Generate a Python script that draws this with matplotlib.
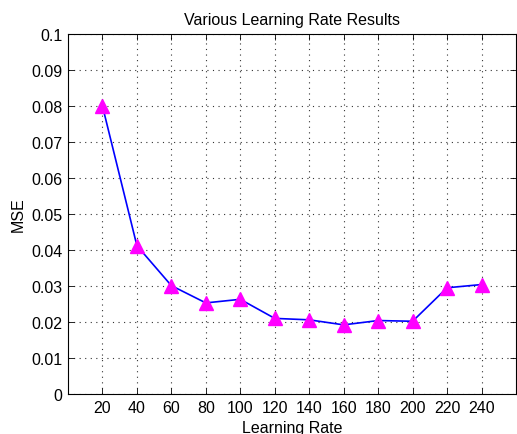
import numpy as np
import matplotlib.pyplot as plt

plt.rcParams['font.family'] = ['Liberation Sans', 'DejaVu Sans']

learning_rate = [20, 40, 60, 80, 100, 120, 140, 160, 180, 200, 220, 240]
mse = [0.0800, 0.0412, 0.0301, 0.0253, 0.0263, 0.0210, 0.0206, 0.0192,
       0.0204, 0.0202, 0.0295, 0.0304]
yticks = [0, 0.01, 0.02, 0.03, 0.04, 0.05, 0.06, 0.07, 0.08, 0.09, 0.1]
ytick_labels = ['0', '0.01', '0.02', '0.03', '0.04', '0.05', '0.06', '0.07',
                '0.08', '0.09', '0.1']

fig = plt.figure(figsize=(5.17, 4.35), dpi=100)
ax = fig.add_axes([0.1315, 0.092, 0.8665, 0.8275])

ax.plot(learning_rate, mse, color='#0000ff', linewidth=1.2, marker='^',
        markersize=10, markerfacecolor='#ff00ff', markeredgecolor='#ff00ff')

ax.set_xlim(0, 260)
ax.set_ylim(0, 0.1)
ax.set_xticks(learning_rate)
ax.set_yticks(yticks)
ax.set_yticklabels(ytick_labels)
ax.tick_params(direction='in', top=True, right=True, labelsize=11.5,
               length=4, width=0.6, pad=4)
# grille pointillée façon MATLAB
ax.grid(True, color='#333333', linestyle=(0, (1, 4)), linewidth=0.8)
for s in ax.spines.values():
    s.set_linewidth(0.8)

ax.set_title('Various Learning Rate Results', fontsize=11.5, pad=7)
ax.set_xlabel('Learning Rate', fontsize=11.5, labelpad=4)
ax.set_ylabel('MSE', fontsize=11.5, labelpad=4)

plt.savefig('out.png', dpi=100)
